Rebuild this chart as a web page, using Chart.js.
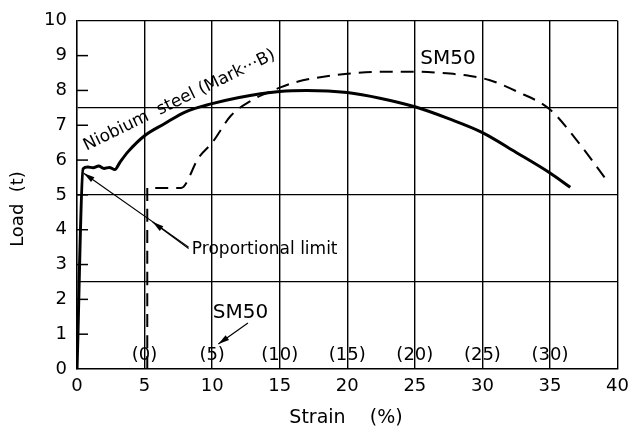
<!DOCTYPE html>
<html>
<head>
<meta charset="utf-8">
<script src="https://cdn.jsdelivr.net/npm/chart.js@4.4.1/dist/chart.umd.min.js"></script>
<style>
  html, body { margin: 0; padding: 0; background: #fff; }
</style>
</head>
<body>
<canvas id="chart" width="636" height="428"></canvas>
<script>
// Niobium steel (Mark...B) - strain (%) vs load (t)
const niobiumStrain = [0, 0.45, 0.8, 1.2, 1.6, 2.0, 2.4, 2.8, 3.2, 3.8, 5.0, 6.5, 8.0, 10, 12, 15, 17, 20, 22.5, 25, 27.5, 30, 32.5, 35, 36.5];
const niobiumLoad = [0, 5.75, 5.8, 5.78, 5.83, 5.76, 5.79, 5.73, 5.95, 6.25, 6.7, 7.05, 7.38, 7.62, 7.8, 7.97, 8.0, 7.94, 7.77, 7.53, 7.19, 6.79, 6.22, 5.63, 5.22];

// SM50
const sm50Strain = [5.2, 5.2, 7.7, 9.0, 10, 11.4, 12.9, 14, 15, 16.3, 18, 20, 23, 25, 27, 29, 30.5, 32.5, 35, 37, 39.2];
const sm50Load = [0, 5.2, 5.2, 6.07, 6.5, 7.28, 7.71, 7.92, 8.08, 8.25, 8.38, 8.48, 8.54, 8.54, 8.5, 8.42, 8.3, 7.98, 7.45, 6.56, 5.42];

// second strain scale for SM50, printed inside the plot
const sm50TickAt = [5, 10, 15, 20, 25, 30, 35];
const sm50TickLabels = ['(0)', '(5)', '(10)', '(15)', '(20)', '(25)', '(30)'];

const xGridAt = [5, 10, 15, 20, 25, 30, 35, 40];
const yGridAt = [2.5, 5, 7.5, 10];
const yMinorTicks = [1, 2, 3, 4, 5, 6, 7, 8, 9];

const FONT = "'DejaVu Sans', sans-serif";

function toPoints(xs, ys) {
    return xs.map((x, i) => ({ x: x, y: ys[i] }));
}

function arrow(ctx, x1, y1, x2, y2) {
    const a = Math.atan2(y2 - y1, x2 - x1);
    ctx.beginPath();
    ctx.moveTo(x1, y1);
    ctx.lineTo(x2, y2);
    ctx.stroke();
    ctx.beginPath();
    ctx.moveTo(x2, y2);
    ctx.lineTo(x2 - 11 * Math.cos(a) + 3 * Math.sin(a), y2 - 11 * Math.sin(a) - 3 * Math.cos(a));
    ctx.lineTo(x2 - 11 * Math.cos(a) - 3 * Math.sin(a), y2 - 11 * Math.sin(a) + 3 * Math.cos(a));
    ctx.closePath();
    ctx.fill();
}

// white paper, inner ticks, notes and axis titles
const paperPlugin = {
    id: 'paper',
    beforeDraw(chart) {
        const ctx = chart.ctx;
        ctx.save();
        ctx.fillStyle = '#fff';
        ctx.fillRect(0, 0, chart.width, chart.height);
        ctx.restore();
    },
    afterDraw(chart) {
        const ctx = chart.ctx;
        const xs = chart.scales.x;
        const ys = chart.scales.y;
        const area = chart.chartArea;
        const px = v => xs.getPixelForValue(v);
        const py = v => ys.getPixelForValue(v);

        ctx.save();
        ctx.strokeStyle = '#000';
        ctx.fillStyle = '#000';

        // short ticks inside the left edge
        ctx.lineWidth = 1.5;
        yMinorTicks.forEach(v => {
            ctx.beginPath();
            ctx.moveTo(area.left, py(v));
            ctx.lineTo(area.left + 11, py(v));
            ctx.stroke();
        });

        // SM50 strain labels
        ctx.font = '18px ' + FONT;
        ctx.textAlign = 'center';
        ctx.textBaseline = 'middle';
        sm50TickAt.forEach((v, i) => {
            ctx.fillText(sm50TickLabels[i], px(v), py(0.4));
        });

        // curve names
        ctx.font = '20px ' + FONT;
        ctx.fillText('SM50', px(27.45), py(8.91));
        ctx.fillText('SM50', px(12.1), py(1.6));

        ctx.save();
        ctx.translate(px(0.7), py(6.27));
        ctx.rotate(-26 * Math.PI / 180);
        ctx.font = '17px ' + FONT;
        ctx.textAlign = 'left';
        ctx.textBaseline = 'alphabetic';
        ctx.fillText('Niobium  steel (Mark\u00b7\u00b7\u00b7B)', 0, 0);
        ctx.restore();

        // proportional limit note
        ctx.font = '17px ' + FONT;
        ctx.textAlign = 'left';
        ctx.fillText('Proportional limit', px(8.5), py(3.44));
        ctx.lineWidth = 1.2;
        arrow(ctx, px(8.26), py(3.5), px(0.5), py(5.62));
        arrow(ctx, px(8.26), py(3.46), px(5.6), py(4.22));
        arrow(ctx, px(12.65), py(1.32), px(10.46), py(0.72));

        // axis titles
        ctx.font = '19px ' + FONT;
        ctx.textAlign = 'center';
        ctx.fillText('Strain    (%)', 346, 418);
        ctx.font = '18px ' + FONT;
        ctx.save();
        ctx.translate(18, 209);
        ctx.rotate(-Math.PI / 2);
        ctx.fillText('Load  (t)', 0, 0);
        ctx.restore();

        ctx.restore();
    }
};

new Chart(document.getElementById('chart'), {
    type: 'line',
    data: {
        datasets: [
            {
                label: 'Niobium steel (Mark...B)',
                data: toPoints(niobiumStrain, niobiumLoad),
                borderColor: '#000',
                borderWidth: 3,
                pointRadius: 0,
                cubicInterpolationMode: 'monotone',
                fill: false
            },
            {
                label: 'SM50',
                data: toPoints(sm50Strain, sm50Load),
                borderColor: '#000',
                borderWidth: 2,
                borderDash: [13, 8],
                pointRadius: 0,
                cubicInterpolationMode: 'monotone',
                fill: false
            }
        ]
    },
    options: {
        responsive: false,
        animation: false,
        layout: { padding: { top: 20, right: 12, left: 0, bottom: 0 } },
        plugins: {
            legend: { display: false },
            tooltip: { enabled: false }
        },
        scales: {
            x: {
                type: 'linear',
                min: 0,
                max: 40,
                ticks: { stepSize: 5, color: '#000', font: { family: FONT, size: 18 }, padding: 7, maxRotation: 0 },
                grid: {
                    color: c => xGridAt.includes(c.tick.value) ? '#000' : 'rgba(0,0,0,0)',
                    lineWidth: 1.4,
                    drawTicks: false
                },
                border: { color: '#000', width: 1.6 },
                afterFit: s => { s.height = 59; }
            },
            y: {
                min: 0,
                max: 10,
                ticks: {
                    stepSize: 0.5,
                    autoSkip: false,
                    color: '#000',
                    font: { family: FONT, size: 18 },
                    padding: 10,
                    callback: v => Number.isInteger(v) ? v : ''
                },
                grid: {
                    color: c => yGridAt.includes(c.tick.value) ? '#000' : 'rgba(0,0,0,0)',
                    lineWidth: 1.3,
                    drawTicks: false
                },
                border: { color: '#000', width: 1.6 },
                afterFit: s => { s.width = 77; }
            }
        }
    },
    plugins: [paperPlugin]
});
</script>
</body>
</html>
